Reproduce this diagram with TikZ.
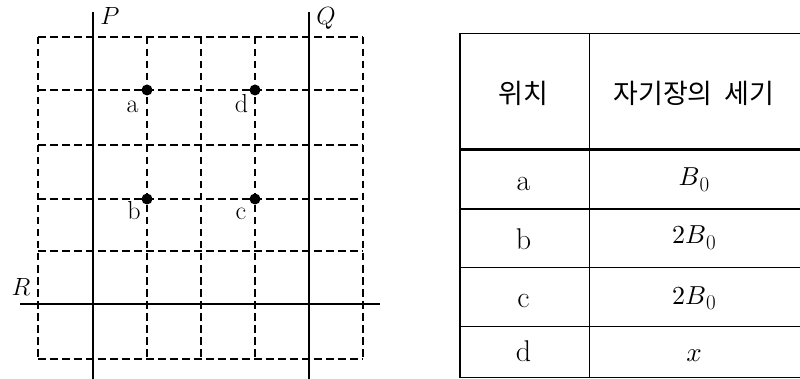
\documentclass[tikz,border=0pt]{standalone}
\usepackage{fontspec}
\usepackage{graphicx}
\newfontfamily\kr{Noto Sans CJK KR}
\newcommand{\subzero}{\raisebox{-5.5pt}{\fontsize{21}{21}\selectfont 0}}
\newcommand{\scaledmath}[2]{\scalebox{#1}{$#2$}}
\begin{document}
\begin{tikzpicture}[x=1pt,y=-1pt,
  gridline/.style={line width=2pt,dash pattern=on 7.5pt off 4.5pt},
  wire/.style={line width=2pt},
  pt/.style={circle,fill=black,inner sep=0pt,minimum size=11pt},
  lbl/.style={font=\fontsize{26}{26}\selectfont,inner sep=0pt,anchor=base},
  wlbl/.style={font=\fontsize{25}{25}\selectfont,inner sep=0pt,anchor=base},
  cell/.style={font=\fontsize{30}{30}\selectfont,inner sep=0pt,anchor=base},
  mcell/.style={inner sep=0pt,anchor=base},
  head/.style={font=\kr\fontsize{27}{27}\selectfont,inner sep=0pt},
  tline/.style={line width=1.5pt},
  hline/.style={line width=3pt}]
\useasboundingbox (0,0) rectangle (800,379);
% dashed grid
\foreach \x in {38,93,147,201,255,309,363}
  \draw[gridline] (\x,37) -- (\x,359);
\foreach \y in {37,90,145,199,251,304,359}
  \draw[gridline] (38,\y) -- (363,\y);
% wires
\coordinate (Ptop) at (93,12);
\coordinate (Pbot) at (93,379);
\coordinate (Qtop) at (309,12);
\coordinate (Qbot) at (309,379);
\coordinate (Rl) at (20,304);
\coordinate (Rr) at (380,304);
\draw[wire] (Ptop) -- (Pbot);
\draw[wire] (Qtop) -- (Qbot);
\draw[wire] (Rl) -- (Rr);
\node[wlbl] (P) at (110,25) {$P$};
\node[wlbl] (Q) at (326,25) {$Q$};
\node[wlbl] (R) at (21,295) {$R$};
% points
\node[pt] (a) at (147,90) {};
\node[pt] (d) at (255,90) {};
\node[pt] (b) at (147,199) {};
\node[pt] (c) at (255,199) {};
\node[lbl] (la) at (132.5,113) {a};
\node[lbl] (ld) at (241.5,113) {d};
\node[lbl] (lb) at (134,220) {b};
\node[lbl] (lc) at (241,220) {c};
% table
\draw[tline] (800,33.3) -- (460,33.3) -- (460,377.7) -- (800,377.7);
\draw[tline] (589.3,33.3) -- (589.3,377.7);
\draw[hline] (460,150) -- (800,150);
\foreach \y in {209,267.7,326.7}
  \draw[tline] (460,\y) -- (800,\y);
\node[head] (h1) at (523,93) {위치};
\node[head] (h2) at (694,93) {자기장의\hspace{0.45em}세기};
\node[cell] (ra) at (523.5,190.5) {a};
\node[cell] (rb) at (523.5,250) {b};
\node[cell] (rc) at (523.5,307) {c};
\node[cell] (rd) at (523.5,361.5) {d};
\node[mcell] (va) at (694,186) {\scaledmath{2.6}{B}\subzero};
\node[mcell] (vb) at (694,244) {\scaledmath{2.6}{2B}\subzero};
\node[mcell] (vc) at (694,304) {\scaledmath{2.6}{2B}\subzero};
\node[mcell] (vd) at (694,361.5) {\scaledmath{2.7}{x}};
\end{tikzpicture}
\end{document}
